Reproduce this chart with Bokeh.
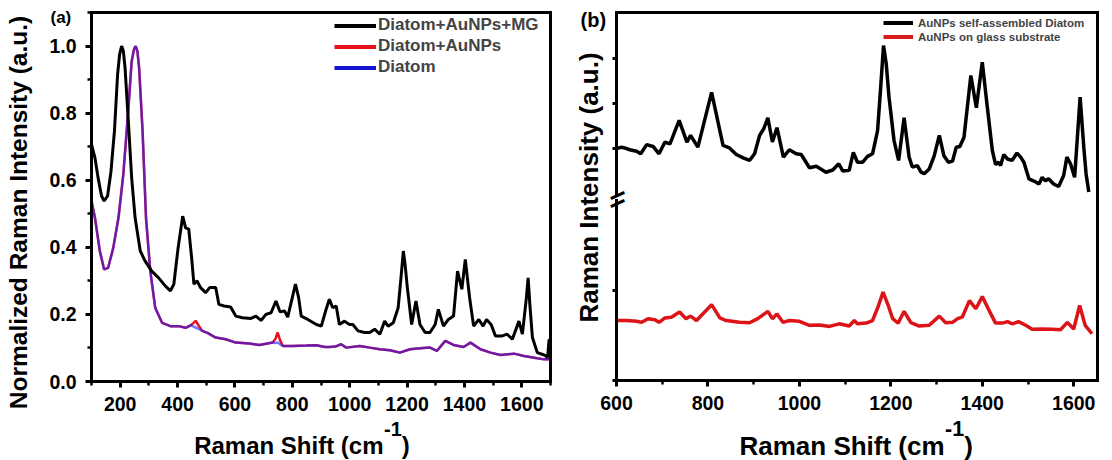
import math
from bokeh.plotting import figure
from bokeh.models import (Label, Legend, LegendItem, SingleIntervalTicker, FixedTicker,
                          PrintfTickFormatter, CustomJSTickFormatter, LinearAxis, Range1d)
from bokeh.layouts import row
from bokeh.embed import file_html
from bokeh.resources import INLINE

FONT = "Liberation Sans"
NAN = float("nan")

# ---------------- Panel (a) data ----------------
shift_mg = [100, 112, 123, 135, 144, 156, 168, 180, 191, 198,
            205, 211, 217, 229, 240, 252, 270, 287, 310, 334,
            357, 375, 387, 402, 418, 428, 439, 449, 457, 468,
            480, 498, 512, 533, 544, 562, 585, 603, 626, 656,
            673, 691, 708, 726, 743, 757, 773, 784, 800, 811,
            822, 831, 854, 884, 901, 916, 929, 941, 953, 964,
            982, 999, 1011, 1029, 1052, 1070, 1087, 1105, 1122, 1134,
            1152, 1169, 1180, 1187, 1193, 1201, 1216, 1231, 1245, 1263,
            1280, 1298, 1309, 1327, 1344, 1362, 1376, 1391, 1403, 1418,
            1432, 1450, 1465, 1477, 1493, 1508, 1532, 1549, 1567, 1590,
            1602, 1616, 1622, 1628, 1637, 1654, 1678, 1690, 1695, 1700]
int_mg = [0.707, 0.667, 0.607, 0.553, 0.538, 0.553, 0.627, 0.747, 0.916, 0.975,
          1.000, 0.985, 0.935, 0.767, 0.607, 0.488, 0.389, 0.359, 0.329, 0.309,
          0.285, 0.270, 0.290, 0.399, 0.493, 0.458, 0.454, 0.369, 0.290, 0.300,
          0.280, 0.265, 0.280, 0.280, 0.230, 0.225, 0.222, 0.195, 0.190, 0.188,
          0.195, 0.182, 0.200, 0.205, 0.240, 0.208, 0.210, 0.192, 0.250, 0.290,
          0.250, 0.195, 0.185, 0.170, 0.165, 0.210, 0.245, 0.220, 0.225, 0.170,
          0.180, 0.170, 0.170, 0.151, 0.146, 0.146, 0.156, 0.141, 0.180, 0.165,
          0.175, 0.220, 0.320, 0.389, 0.350, 0.280, 0.170, 0.240, 0.170, 0.146,
          0.146, 0.170, 0.215, 0.165, 0.185, 0.195, 0.329, 0.275, 0.364, 0.250,
          0.165, 0.185, 0.165, 0.185, 0.170, 0.136, 0.136, 0.141, 0.126, 0.180,
          0.141, 0.250, 0.309, 0.230, 0.131, 0.086, 0.079, 0.072, 0.124, 0.124]

shift_ref = [100, 112, 129, 144, 158, 176, 194, 211, 229, 240,
             248, 254, 260, 266, 278, 290, 305, 322, 346, 375,
             404, 428, 447, 455, 463, 471, 486, 504, 533, 568,
             603, 650, 685, 732, 741, 749, 757, 767, 802, 849,
             884, 913, 929, 950, 970, 988, 1035, 1070, 1105, 1140,
             1175, 1210, 1245, 1280, 1304, 1333, 1362, 1397, 1421, 1456,
             1491, 1526, 1573, 1608, 1643, 1678, 1700]
int_aunps = [0.538, 0.488, 0.389, 0.334, 0.339, 0.399, 0.488, 0.618, 0.818, 0.955,
             0.990, 1.000, 0.985, 0.935, 0.747, 0.488, 0.329, 0.220, 0.175, 0.165,
             0.165, 0.160, 0.168, 0.174, 0.181, 0.170, 0.151, 0.145, 0.131, 0.126,
             0.116, 0.113, 0.109, 0.116, 0.127, 0.146, 0.124, 0.106, 0.106, 0.107,
             0.108, 0.103, 0.103, 0.104, 0.111, 0.101, 0.106, 0.101, 0.096, 0.093,
             0.086, 0.096, 0.099, 0.101, 0.091, 0.121, 0.109, 0.103, 0.116, 0.096,
             0.086, 0.079, 0.083, 0.076, 0.071, 0.066, 0.066]
int_diatom = [0.538, 0.488, 0.389, 0.334, 0.339, 0.399, 0.488, 0.618, 0.818, 0.955,
              0.990, 1.000, 0.985, 0.935, 0.747, 0.488, 0.329, 0.220, 0.175, 0.165,
              0.165, 0.160, 0.168, 0.164, 0.161, 0.158, 0.151, 0.145, 0.131, 0.126,
              0.116, 0.113, 0.109, 0.116, 0.115, 0.116, 0.111, 0.106, 0.106, 0.107,
              0.108, 0.103, 0.103, 0.104, 0.111, 0.101, 0.106, 0.101, 0.096, 0.093,
              0.086, 0.096, 0.099, 0.101, 0.091, 0.121, 0.109, 0.103, 0.116, 0.096,
              0.086, 0.079, 0.083, 0.076, 0.071, 0.066, 0.066]
legend_a = ["Diatom+AuNPs+MG", "Diatom+AuNPs", "Diatom"]
a_xlim = (100, 1700)
a_ylim = (0.0, 1.1)

# ---------------- Panel (b) data ----------------
shift_b_diatom = [600, 611, 618, 629, 644, 653, 666, 680, 693, 706,
                  717, 737, 754, 762, 778, 808, 833, 847, 862, 877,
                  891, 902, 913, 922, 931, 941, 951, 965, 978, 993,
                  1004, 1022, 1037, 1058, 1073, 1086, 1095, 1109, 1118, 1127,
                  1138, 1149, 1160, 1171, 1178, 1184, 1190, 1196, 1207, 1217,
                  1229, 1240, 1247, 1258, 1266, 1273, 1284, 1295, 1306, 1316,
                  1326, 1335, 1343, 1351, 1360, 1375, 1387, 1400, 1411, 1422,
                  1429, 1436, 1440, 1447, 1455, 1465, 1476, 1484, 1491, 1502,
                  1513, 1524, 1531, 1538, 1545, 1556, 1567, 1578, 1585, 1593,
                  1602, 1614, 1622, 1627, 1633]
int_b_diatom = [630, 634, 632, 627, 623, 616, 641, 636, 616, 648,
                643, 707, 648, 666, 634, 783, 639, 632, 614, 605,
                598, 616, 666, 684, 714, 648, 687, 607, 627, 616,
                614, 578, 582, 566, 572, 589, 569, 571, 620, 593,
                593, 609, 616, 679, 800, 910, 860, 770, 652, 598,
                714, 607, 580, 584, 566, 562, 575, 611, 666, 611,
                593, 596, 634, 636, 661, 829, 741, 865, 743, 625,
                587, 593, 584, 614, 602, 598, 618, 607, 593, 548,
                542, 534, 552, 543, 548, 534, 527, 557, 607, 589,
                552, 770, 634, 562, 512]
shift_b_glass = [600, 622, 644, 655, 669, 684, 693, 706, 720, 738,
                 752, 762, 775, 808, 826, 840, 869, 891, 909, 931,
                 941, 951, 964, 978, 1000, 1022, 1044, 1066, 1087, 1109,
                 1120, 1127, 1146, 1160, 1172, 1183, 1194, 1204, 1216, 1229,
                 1244, 1262, 1284, 1306, 1320, 1335, 1346, 1356, 1372, 1386,
                 1400, 1415, 1429, 1444, 1455, 1466, 1479, 1495, 1509, 1531,
                 1553, 1571, 1586, 1600, 1613, 1625, 1640]
int_b_glass = [163, 163, 161, 158, 168, 165, 158, 170, 172, 186,
               168, 175, 163, 206, 170, 163, 158, 157, 168, 188,
               168, 181, 158, 163, 161, 150, 151, 147, 154, 148,
               163, 154, 156, 163, 200, 240, 205, 168, 156, 188,
               157, 148, 150, 175, 157, 158, 168, 172, 217, 195,
               228, 190, 156, 156, 160, 154, 160, 150, 139, 140,
               139, 138, 158, 140, 204, 150, 127]
legend_b = ["AuNPs self-assembled Diatom", "AuNPs on glass substrate"]
b_xlim = (600, 1652)
b_ylim = (0, 1000)
b_yticks_low = [0, 245]
b_yticks_high = [631, 754, 876]
b_break = (489, 508)


def make_fig(width, xlim, ylim, box):
    """box = (left, right, top, bottom) of the data box in canvas pixels."""
    left, right, top, bottom = box
    h = 460
    kx = (right - left) / (xlim[1] - xlim[0])
    ky = (bottom - top) / (ylim[1] - ylim[0])
    xr = Range1d(xlim[0] - left / kx, xlim[1] + (width - right) / kx)
    yr = Range1d(ylim[0] - (h - bottom) / ky, ylim[1] + top / ky)
    p = figure(width=width, height=h, x_range=xr, y_range=yr,
               output_backend="svg", toolbar_location=None,
               x_axis_location=None, y_axis_location=None,
               min_border=0, min_border_left=0, min_border_right=0,
               min_border_top=0, min_border_bottom=0)
    p.outline_line_color = None
    p.background_fill_color = "white"
    p.border_fill_color = "white"
    p.xgrid.visible = False
    p.ygrid.visible = False
    return p


def add_axis(p, side, fixed, bounds, ticker, formatter=None, tick_out=6,
             label_size="19.5px", standoff=5):
    ax = LinearAxis(fixed_location=fixed, bounds=bounds, ticker=ticker)
    if formatter is not None:
        ax.formatter = formatter
    ax.axis_line_width = 3
    ax.axis_line_color = "black"
    ax.axis_line_cap = "square"
    ax.major_tick_line_width = 3
    ax.major_tick_line_color = "black"
    ax.minor_tick_line_width = 2.5
    ax.minor_tick_line_color = "black"
    ax.major_tick_in = 0
    ax.major_tick_out = tick_out
    ax.minor_tick_in = 0
    ax.minor_tick_out = 4
    ax.major_label_text_font = FONT
    ax.major_label_text_font_style = "bold"
    ax.major_label_text_font_size = label_size
    ax.major_label_text_color = "black"
    ax.major_label_standoff = standoff
    p.add_layout(ax, side)
    return ax


def lbl(p, x, y, text, size, align="left", baseline="alphabetic", angle=0.0):
    p.add_layout(Label(x=x, y=y, x_units="screen", y_units="screen", text=text,
                       text_font=FONT, text_font_style="bold", text_font_size=size,
                       text_color="black", text_align=align, text_baseline=baseline,
                       angle=angle))


NO_TICKS = FixedTicker(ticks=[], minor_ticks=[])

# ---------------- Figure (a) ----------------
pa = make_fig(560, a_xlim, a_ylim, (91, 550, 12, 381))
add_axis(pa, "below", a_ylim[0], a_xlim,
         SingleIntervalTicker(interval=200, num_minor_ticks=2), standoff=9)
add_axis(pa, "left", a_xlim[0], a_ylim,
         SingleIntervalTicker(interval=0.2, num_minor_ticks=2),
         PrintfTickFormatter(format="%.1f"), standoff=9)
add_axis(pa, "above", a_ylim[1], a_xlim, NO_TICKS)
add_axis(pa, "right", a_xlim[1], a_ylim, NO_TICKS)

pa.line(shift_ref, int_aunps, line_color="#e8101c", line_width=2.5)
pa.line(shift_ref, int_diatom, line_color="#2020ff", line_alpha=0.6, line_width=2.5)
pa.line(shift_mg, int_mg, line_color="black", line_width=3)

la1 = pa.line([NAN], [NAN], line_color="black", line_width=4)
la2 = pa.line([NAN], [NAN], line_color="#e8101c", line_width=4)
la3 = pa.line([NAN], [NAN], line_color="#1414d2", line_width=4)
leg_a = Legend(items=[LegendItem(label=legend_a[0], renderers=[la1]),
                      LegendItem(label=legend_a[1], renderers=[la2]),
                      LegendItem(label=legend_a[2], renderers=[la3])],
               location=(334, 382.5), padding=1, spacing=0, margin=0,
               glyph_width=42, glyph_height=21, label_height=21, label_standoff=2,
               label_text_font=FONT, label_text_font_style="bold",
               label_text_font_size="17px", border_line_color=None,
               background_fill_alpha=0)
pa.add_layout(leg_a)

lbl(pa, 50, 443, "(a)", "17px", baseline="middle")
lbl(pa, 18, 248, "Normalized Raman Intensity (a.u.)", "24.5px", align="center",
    baseline="middle", angle=math.pi / 2)
lbl(pa, 383, 15, "Raman Shift (cm", "24px", align="right")
lbl(pa, 383.5, 32, "-1", "20px")
lbl(pa, 401.3, 15, ")", "24px")

# ---------------- Figure (b) ----------------
pb = make_fig(552, b_xlim, b_ylim, (56, 537, 12, 380))
add_axis(pb, "below", b_ylim[0], b_xlim,
         SingleIntervalTicker(interval=200, num_minor_ticks=2), standoff=9)
blank = CustomJSTickFormatter(code="return ''")
add_axis(pb, "left", b_xlim[0], (b_ylim[0], b_break[0]),
         FixedTicker(ticks=b_yticks_low, minor_ticks=[]), blank, tick_out=4)
add_axis(pb, "left", b_xlim[0], (b_break[1], b_ylim[1]),
         FixedTicker(ticks=b_yticks_high, minor_ticks=[]), blank, tick_out=4)
add_axis(pb, "above", b_ylim[1], b_xlim, NO_TICKS)
add_axis(pb, "right", b_xlim[1], b_ylim, NO_TICKS)

pb.line(shift_b_glass, int_b_glass, line_color="#dc1418", line_width=3.5)
pb.line(shift_b_diatom, int_b_diatom, line_color="black", line_width=3.5)

lb1 = pb.line([NAN], [NAN], line_color="black", line_width=4)
lb2 = pb.line([NAN], [NAN], line_color="#d81c1c", line_width=4)
leg_b = Legend(items=[LegendItem(label=legend_b[0], renderers=[lb1]),
                      LegendItem(label=legend_b[1], renderers=[lb2])],
               location=(323, 416.8), padding=2, spacing=1, margin=0,
               glyph_width=30, glyph_height=13, label_height=13, label_standoff=5,
               label_text_font=FONT, label_text_font_style="bold",
               label_text_font_size="11.5px", border_line_color=None,
               background_fill_alpha=0)
pb.add_layout(leg_b)

# break marks on the left axis
lbl(pb, 56, 267.3, "\u2013", "30px", align="center", baseline="middle", angle=0.42)
lbl(pb, 56, 259.3, "\u2013", "30px", align="center", baseline="middle", angle=0.42)

lbl(pb, 20, 441, "(b)", "20px", baseline="middle")
lbl(pb, 28, 273, "Raman Intensity (a.u.)", "26px", align="center",
    baseline="middle", angle=math.pi / 2)
lbl(pb, 384.1, 15, "Raman Shift (cm", "26px", align="right")
lbl(pb, 384.6, 32, "-1", "21.5px")
lbl(pb, 403.7, 15, ")", "26px")

layout = row(pa, pb)
open("out.html", "w").write(file_html(layout, INLINE))
